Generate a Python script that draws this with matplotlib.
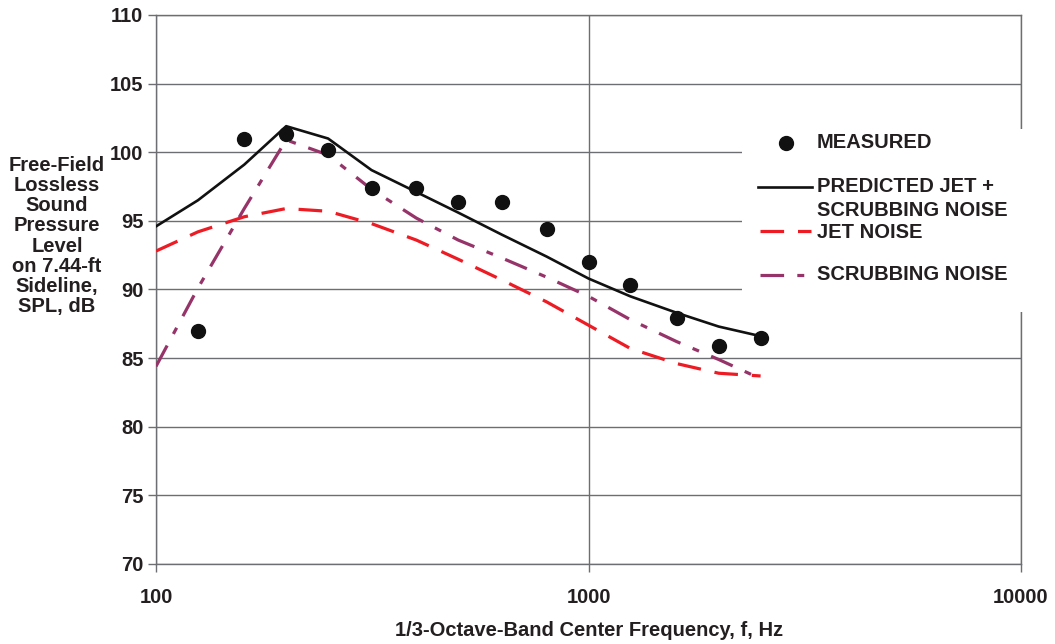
import matplotlib
matplotlib.use("Agg")
import matplotlib.pyplot as plt
from matplotlib.patches import Rectangle
from matplotlib.lines import Line2D
from matplotlib.ticker import FixedLocator, FixedFormatter, NullLocator

# 1/3-octave band centre frequencies (Hz)
freq = [100, 125, 160, 200, 250, 315, 400, 500, 630, 800, 1000, 1250, 1600, 2000, 2500]
measured_freq = freq[1:]
measured_spl = [87.0, 101.0, 101.3, 100.2, 97.4, 97.4, 96.4, 96.4, 94.4, 92.0, 90.3, 87.9, 85.9, 86.5]
predicted_total = [94.6, 96.5, 99.1, 101.9, 101.0, 98.7, 97.1, 95.6, 94.0, 92.4, 90.8, 89.5, 88.3, 87.3, 86.6]
jet_noise = [92.8, 94.2, 95.3, 95.9, 95.7, 94.8, 93.6, 92.2, 90.7, 89.1, 87.4, 85.7, 84.6, 83.9, 83.7]
scrubbing_noise = [84.4, 90.1, 95.9, 100.9, 99.8, 97.3, 95.2, 93.6, 92.3, 90.9, 89.5, 87.8, 86.2, 84.9, 83.5]

x_ticks = [100, 1000, 10000]
x_tick_labels = ["100", "1000", "10000"]
y_ticks = [70, 75, 80, 85, 90, 95, 100, 105, 110]

plt.rcParams["lines.scale_dashes"] = False
FONT = "Liberation Sans"
FS = 14.5
TXT = "#231f20"
GRID = "#6d6e71"
RED = "#ed1c24"
PURPLE = "#963469"

fig = plt.figure(figsize=(10.55, 6.44), dpi=100)
W, H = 1055, 644
ax = fig.add_axes([156 / W, (H - 564) / H, 865 / W, 549 / H])

ax.set_xscale("log")
ax.set_xlim(100, 10000)
ax.set_ylim(70, 110)

ax.plot(freq, jet_noise, color=RED, lw=2.3, dashes=(17, 10), zorder=3)
ax.plot(freq, scrubbing_noise, color=PURPLE, lw=2.3, dashes=(17, 9.5, 5, 9.5), zorder=3)
ax.plot(freq, predicted_total, color="#111111", lw=1.9, zorder=3.2)
ax.plot(measured_freq, measured_spl, "o", color="#111111", ms=10, zorder=3.5)

ax.xaxis.set_major_locator(FixedLocator(x_ticks))
ax.xaxis.set_major_formatter(FixedFormatter(x_tick_labels))
ax.xaxis.set_minor_locator(NullLocator())
ax.set_yticks(y_ticks)

ax.grid(True, which="major", color=GRID, lw=1.0)
ax.set_axisbelow(True)
for s in ax.spines.values():
    s.set_color(GRID)
    s.set_linewidth(1.0)

ax.tick_params(axis="y", direction="out", length=6, width=1, color=GRID, pad=3,
               labelsize=FS, labelcolor=TXT)
ax.tick_params(axis="x", direction="out", length=6, width=1, color=GRID, pad=11,
               labelsize=FS, labelcolor=TXT)
for lab in ax.get_xticklabels() + ax.get_yticklabels():
    lab.set_fontfamily(FONT)
    lab.set_fontweight("bold")

ax.set_xlabel("1/3-Octave-Band Center Frequency, f, Hz", fontsize=FS, fontweight="bold",
              family=FONT, color=TXT)
ax.xaxis.set_label_coords(0.5006, (564 - 621) / 549)

fig.text(57 / W, 1 - 236 / H,
         "Free-Field\nLossless\nSound\nPressure\nLevel\non 7.44-ft\nSideline,\nSPL, dB",
         ha="center", va="center", multialignment="center", fontsize=FS,
         fontweight="bold", family=FONT, color=TXT, linespacing=1.07)

# legend panel
def ax_x(px):
    return (px - 156) / 865

def ax_y(py):
    return (564 - py) / 549

ax.add_patch(Rectangle((ax_x(742), ax_y(312)), ax_x(1032) - ax_x(742), ax_y(129) - ax_y(312),
                       transform=ax.transAxes, facecolor="white", edgecolor="none",
                       clip_on=False, zorder=4))
tr = ax.transAxes
ax.add_line(Line2D([ax_x(786)], [ax_y(143)], marker="o", ms=10, color="#111111",
                   transform=tr, clip_on=False, zorder=5))
ax.add_line(Line2D([ax_x(758), ax_x(812)], [ax_y(187)] * 2, color="#111111", lw=1.9,
                   transform=tr, clip_on=False, zorder=5))
ax.add_line(Line2D([ax_x(760), ax_x(811)], [ax_y(231)] * 2, color=RED, lw=2.3,
                   dashes=(17, 10), transform=tr, clip_on=False, zorder=5))
ax.add_line(Line2D([ax_x(760), ax_x(807)], [ax_y(275)] * 2, color=PURPLE, lw=2.3,
                   dashes=(17, 9.5, 5, 9.5), transform=tr, clip_on=False, zorder=5))

legend_text = [("MEASURED", 143), ("PREDICTED JET +", 187), ("SCRUBBING NOISE", 210),
               ("JET NOISE", 232), ("SCRUBBING NOISE", 275)]
for txt, py in legend_text:
    ax.text(ax_x(817), ax_y(py), txt, transform=tr, ha="left", va="center", fontsize=FS,
            fontweight="bold", family=FONT, color=TXT, zorder=6, clip_on=False)

fig.savefig("out.png", dpi=100, facecolor="white")
